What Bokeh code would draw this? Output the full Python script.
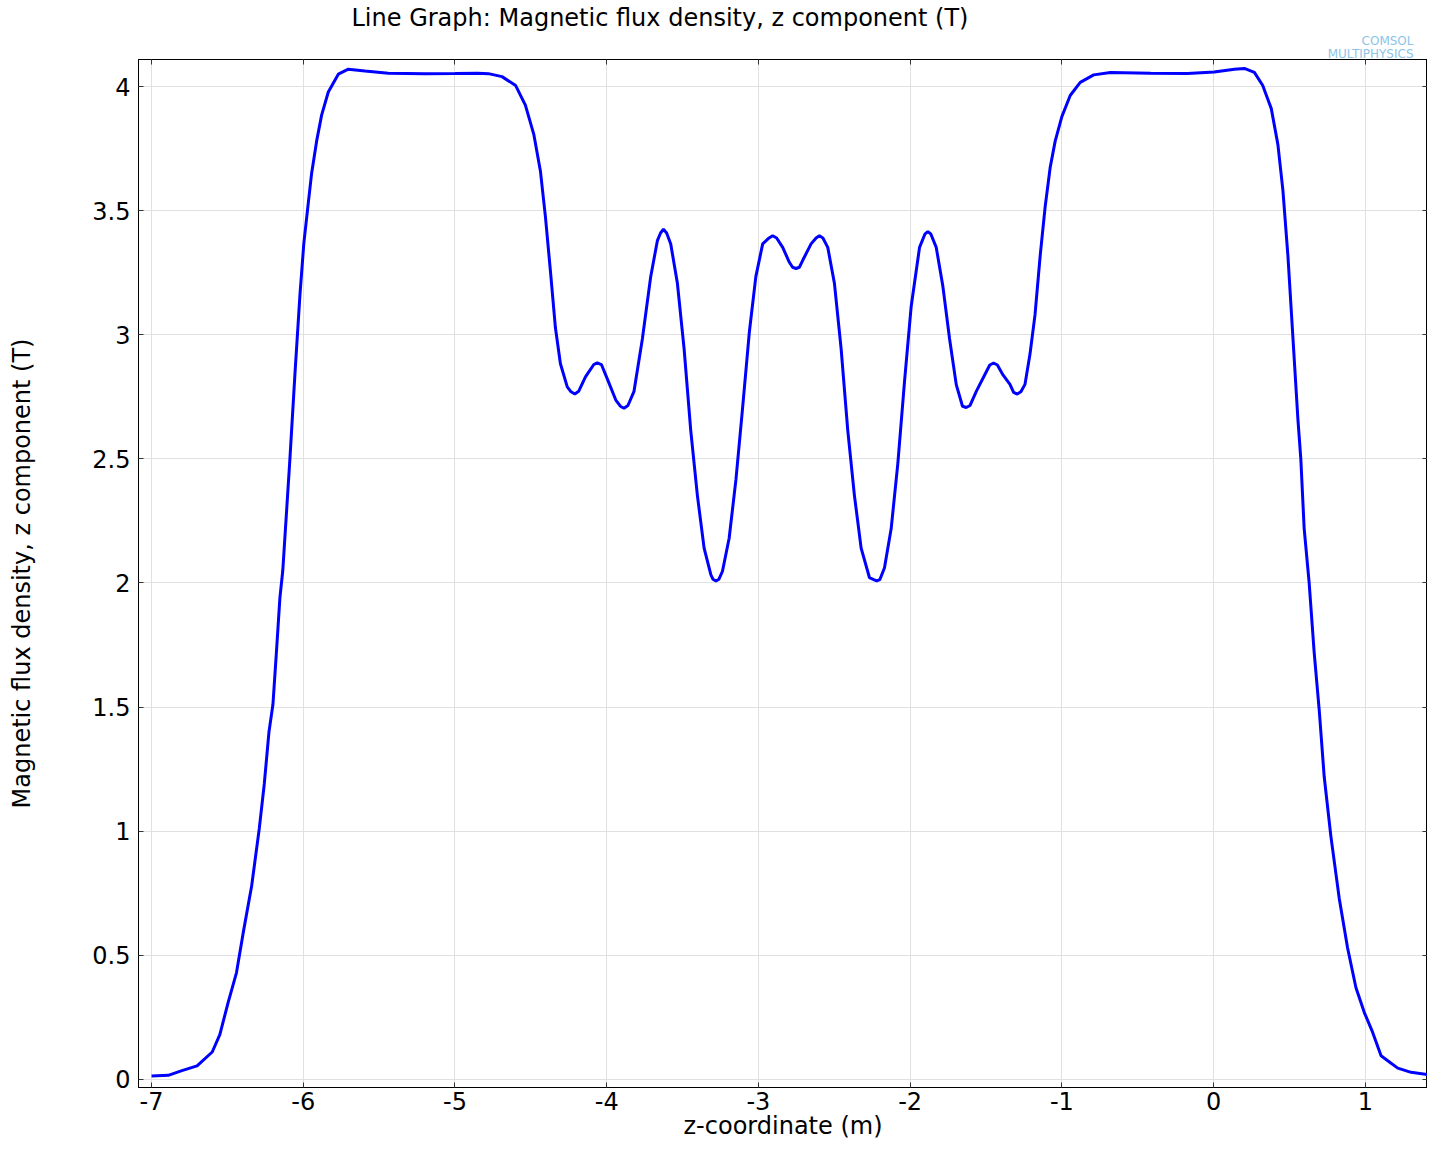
from bokeh.plotting import figure
from bokeh.models import Range1d, LinearAxis, FixedTicker, Title
from bokeh.embed import file_html
from bokeh.resources import INLINE

# z-coordinate (m)
z = [-7.00, -6.89, -6.80, -6.70, -6.60, -6.55, -6.495, -6.44, -6.396, -6.34,
     -6.29, -6.257, -6.226, -6.20, -6.176, -6.154, -6.135, -6.088, -6.055, -6.022,
     -5.996, -5.967, -5.945, -5.912, -5.879, -5.835, -5.769, -5.703, -5.593, -5.44,
     -5.2, -5.0, -4.85, -4.78, -4.69, -4.60, -4.536, -4.48, -4.437, -4.404,
     -4.37, -4.338, -4.305, -4.26, -4.235, -4.21, -4.185, -4.14, -4.085, -4.062,
     -4.035, -3.996, -3.94, -3.91, -3.886, -3.86, -3.82, -3.765, -3.71, -3.666,
     -3.645, -3.626, -3.605, -3.578, -3.534, -3.49, -3.446, -3.402, -3.358, -3.314,
     -3.30, -3.28, -3.26, -3.237, -3.193, -3.148, -3.104, -3.06, -3.017, -2.972,
     -2.93, -2.906, -2.88, -2.84, -2.797, -2.775, -2.752, -2.73, -2.708, -2.653,
     -2.62, -2.598, -2.575, -2.543, -2.499, -2.455, -2.411, -2.367, -2.323, -2.268,
     -2.24, -2.22, -2.20, -2.169, -2.125, -2.081, -2.037, -1.993, -1.938, -1.903,
     -1.883, -1.863, -1.828, -1.784, -1.74, -1.696, -1.655, -1.630, -1.605, -1.564,
     -1.498, -1.475, -1.45, -1.425, -1.388, -1.342, -1.318, -1.294, -1.27, -1.243,
     -1.21, -1.177, -1.143, -1.11, -1.077, -1.044, -1.0, -0.945, -0.879, -0.79,
     -0.68, -0.415, -0.172, 0.004, 0.137, 0.203, 0.269, 0.324, 0.38, 0.424,
     0.457, 0.49, 0.523, 0.556, 0.575, 0.597, 0.63, 0.663, 0.696, 0.729,
     0.773, 0.828, 0.883, 0.938, 0.993, 1.048, 1.104, 1.148, 1.214, 1.302,
     1.478]

# Magnetic flux density, z component (T)
bz = [0.013, 0.016, 0.035, 0.054, 0.11, 0.18, 0.31, 0.43, 0.59, 0.78,
      1.01, 1.19, 1.40, 1.51, 1.73, 1.94, 2.05, 2.50, 2.84, 3.16,
      3.37, 3.53, 3.65, 3.78, 3.885, 3.978, 4.05, 4.07, 4.063, 4.054,
      4.052, 4.053, 4.054, 4.052, 4.04, 4.004, 3.925, 3.806, 3.66, 3.476,
      3.25, 3.028, 2.883, 2.79, 2.77, 2.761, 2.772, 2.83, 2.88, 2.887,
      2.88, 2.822, 2.737, 2.712, 2.704, 2.715, 2.772, 2.983, 3.234, 3.379,
      3.41, 3.425, 3.41, 3.366, 3.207, 2.944, 2.614, 2.351, 2.14, 2.034,
      2.015, 2.008, 2.015, 2.047, 2.18, 2.417, 2.707, 3.01, 3.234, 3.366,
      3.39, 3.399, 3.39, 3.352, 3.293, 3.272, 3.267, 3.272, 3.30, 3.366,
      3.39, 3.399, 3.39, 3.352, 3.207, 2.944, 2.614, 2.351, 2.14, 2.021,
      2.013, 2.008, 2.013, 2.061, 2.219, 2.482, 2.812, 3.115, 3.352, 3.405,
      3.416, 3.405, 3.352, 3.194, 2.983, 2.799, 2.712, 2.707, 2.715, 2.772,
      2.851, 2.878, 2.886, 2.878, 2.838, 2.80, 2.768, 2.761, 2.77, 2.80,
      2.922, 3.08, 3.318, 3.516, 3.674, 3.78, 3.879, 3.964, 4.017, 4.047,
      4.057, 4.054, 4.053, 4.059, 4.07, 4.073, 4.057, 4.004, 3.912, 3.766,
      3.582, 3.318, 2.988, 2.658, 2.50, 2.22, 2.0, 1.72, 1.49, 1.22,
      0.98, 0.73, 0.53, 0.37, 0.27, 0.19, 0.095, 0.075, 0.045, 0.028,
      0.013]

x_ticks = [-7, -6, -5, -4, -3, -2, -1, 0, 1]
x_tick_labels = ["-7", "-6", "-5", "-4", "-3", "-2", "-1", "0", "1"]
y_ticks = [0, 0.5, 1, 1.5, 2, 2.5, 3, 3.5, 4]
y_tick_labels = ["0", "0.5", "1", "1.5", "2", "2.5", "3", "3.5", "4"]

FONT = "DejaVu Sans"
FS = "24px"
Y0, Y1 = -0.033, 4.109
X0, X1 = -7.086, 1.41

p = figure(width=1427, height=1142, output_backend="svg", toolbar_location=None,
           x_range=Range1d(X0, X1), y_range=Range1d(Y0, Y1),
           min_border_left=138, min_border_right=0, min_border_top=0, min_border_bottom=0)

p.line(z, bz, line_color="#0000ff", line_width=3)

p.title.text = "Line Graph: Magnetic flux density, z component (T)"
p.title.text_font = FONT
p.title.text_font_size = FS
p.title.text_font_style = "normal"
p.title.text_color = "black"
p.title.align = "left"
p.title.offset = 213
p.title.standoff = 3

p.outline_line_color = "black"
p.outline_line_width = 1
p.background_fill_color = "white"
p.border_fill_color = "white"

for g in (p.xgrid, p.ygrid):
    g.grid_line_color = "#e0e0e0"
    g.grid_line_width = 1
p.xgrid.ticker = FixedTicker(ticks=x_ticks)
p.ygrid.ticker = FixedTicker(ticks=y_ticks)

xa = p.xaxis[0]
ya = p.yaxis[0]
xa.ticker = FixedTicker(ticks=x_ticks)
ya.ticker = FixedTicker(ticks=y_ticks)
xa.major_label_overrides = dict(zip(x_ticks, x_tick_labels))
ya.major_label_overrides = dict(zip(y_ticks, y_tick_labels))
xa.axis_label = "z-coordinate (m)"
ya.axis_label = "Magnetic flux density, z component (T)"
for ax in (xa, ya):
    ax.axis_label_text_font = FONT
    ax.axis_label_text_font_size = FS
    ax.axis_label_text_font_style = "normal"
    ax.axis_label_text_color = "black"
    ax.major_label_text_font = FONT
    ax.major_label_text_font_size = FS
    ax.major_label_text_color = "black"
    ax.axis_line_color = "black"
    ax.major_tick_line_color = "#333333"
    ax.major_tick_in = 5
    ax.major_tick_out = 0
    ax.minor_tick_line_color = None
xa.major_label_standoff = 4
xa.axis_label_standoff = -1
ya.major_label_standoff = 8
ya.axis_label_standoff = 53

# tick marks on the top and right borders
top = LinearAxis(ticker=FixedTicker(ticks=x_ticks),
                 major_label_overrides={t: "" for t in x_ticks},
                 major_label_text_font_size="1px",
                 major_label_standoff=0, axis_label_standoff=0,
                 major_tick_in=5, major_tick_out=0,
                 minor_tick_line_color=None, axis_line_color="black",
                 major_tick_line_color="#333333")
right = LinearAxis(ticker=FixedTicker(ticks=y_ticks),
                   major_label_overrides={t: "" for t in y_ticks},
                   major_label_text_font_size="1px",
                   major_label_standoff=0, axis_label_standoff=0,
                   major_tick_in=5, major_tick_out=0,
                   minor_tick_line_color=None, axis_line_color="black",
                   major_tick_line_color="#333333")
p.add_layout(top, "above")
p.add_layout(right, "right")

# logo text (above the frame, top right), two right-aligned lines
logo_bottom = Title(text="MULTIPHYSICS", text_font=FONT, text_font_size="12px",
                    text_font_style="normal", text_color="#8cc4e8", align="right",
                    offset=14, standoff=-3)
logo_top = Title(text="COMSOL", text_font=FONT, text_font_size="12px",
                 text_font_style="normal", text_color="#8cc4e8", align="right",
                 offset=14, standoff=-3)
p.add_layout(logo_bottom, "above")
p.add_layout(logo_top, "above")

open("out.html", "w").write(file_html(p, INLINE))
